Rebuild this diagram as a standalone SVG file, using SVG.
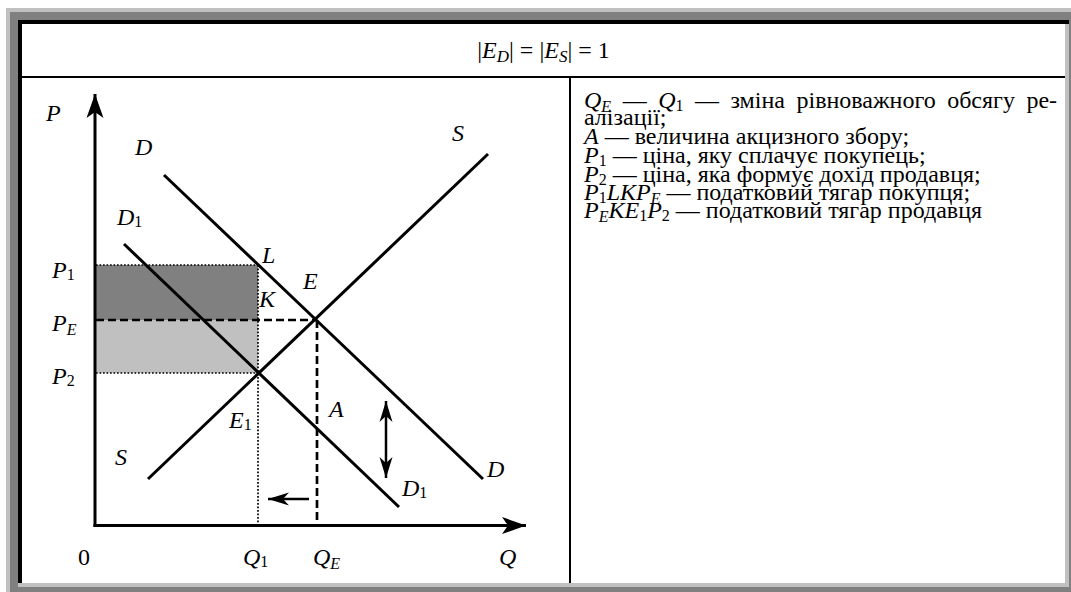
<svg xmlns="http://www.w3.org/2000/svg" width="1071" height="592" viewBox="0 0 1071 592">
<style>
text{font-family:"Liberation Serif","DejaVu Serif","Times New Roman",serif;fill:#000}
.lb{font-size:24px;font-style:italic}
.n{font-style:normal}
.sb{font-size:16px}
.hd{font-size:24px}
.hs{font-size:17px}
.tx{font-size:24px}
.ts{font-size:16px}
.ln{stroke:#000;stroke-width:3;fill:none}
.ds{stroke:#000;stroke-width:2.7;stroke-dasharray:8 4;fill:none}
.dt{stroke:#000;stroke-width:1.7;stroke-dasharray:1.7 1.8;fill:none}
</style>
<defs>
<marker id="ah" markerUnits="userSpaceOnUse" viewBox="-24 -9 26 18" refX="0" refY="0" markerWidth="26" markerHeight="18" orient="auto">
<path d="M0,0 L-24,-8.5 L-18,0 L-24,8.5 Z" fill="#000"/>
</marker>
<marker id="as" markerUnits="userSpaceOnUse" viewBox="-22 -8 24 16" refX="0" refY="0" markerWidth="24" markerHeight="16" orient="auto-start-reverse">
<path d="M0,0 L-21,-6.5 L-15,0 L-21,6.5 Z" fill="#000"/>
</marker>
</defs>
<g id="frame">
<rect x="6" y="8" width="1065" height="584" fill="#c0c0c0"/>
<rect x="10" y="12" width="1061" height="580" fill="#808080"/>
<rect x="18" y="20" width="1051" height="567" fill="#c0c0c0"/>
<rect x="18" y="20" width="1051" height="4" fill="#000"/>
<rect x="18" y="20" width="4" height="563" fill="#000"/>
<rect x="22" y="24" width="1043" height="559" fill="#fff"/>
<rect x="22" y="76" width="1043" height="2" fill="#000"/>
<rect x="569" y="78" width="2" height="505" fill="#000"/>
</g>
<g id="header">
<text class="hd" x="543.5" y="58" text-anchor="middle">|<tspan font-style="italic">E</tspan><tspan class="hs" font-style="italic" dy="4">D</tspan><tspan dy="-4">| = |</tspan><tspan font-style="italic">E</tspan><tspan class="hs" font-style="italic" dy="4">S</tspan><tspan dy="-4">| = 1</tspan></text>
</g>
<g id="areas">
<rect x="96" y="265" width="162" height="55" fill="#808080"/>
<rect x="96" y="320" width="162" height="53" fill="#c0c0c0"/>
</g>
<g id="connectors">
<line class="dt" x1="96" y1="265" x2="258" y2="265"/>
<line class="dt" x1="96" y1="373" x2="258" y2="373"/>
<line class="dt" x1="258" y1="265" x2="258" y2="524"/>
<line class="ds" x1="96" y1="320" x2="317" y2="320"/>
<line class="ds" x1="317" y1="320" x2="317" y2="524"/>
<line class="ln" x1="164" y1="175" x2="483" y2="479"/>
<line class="ln" x1="124" y1="244" x2="399" y2="507"/>
<line class="ln" x1="148" y1="479" x2="488" y2="154"/>
<line class="ln" x1="95" y1="527" x2="95" y2="94" marker-end="url(#ah)"/>
<line class="ln" x1="93.5" y1="525.5" x2="526" y2="525.5" marker-end="url(#ah)"/>
<line stroke="#000" stroke-width="2.5" x1="309" y1="499" x2="268" y2="499" marker-end="url(#as)"/>
<line stroke="#000" stroke-width="2.5" x1="386" y1="401" x2="386" y2="478" marker-start="url(#as)" marker-end="url(#as)"/>
</g>
<g id="labels">
<text class="lb" x="46" y="121">P</text>
<text class="lb" x="135" y="155">D</text>
<text class="lb" x="117" y="225">D<tspan class="sb n" dy="2">1</tspan></text>
<text class="lb" x="452" y="141">S</text>
<text class="lb" x="262" y="263">L</text>
<text class="lb" x="259" y="307">K</text>
<text class="lb" x="303" y="289">E</text>
<text class="lb" x="52" y="278">P<tspan class="sb n" dy="2">1</tspan></text>
<text class="lb" x="52" y="331">P<tspan class="sb" dy="4">E</tspan></text>
<text class="lb" x="52" y="384">P<tspan class="sb n" dy="2">2</tspan></text>
<text class="lb" x="229" y="428">E<tspan class="sb n" dy="2">1</tspan></text>
<text class="lb" x="329" y="417">A</text>
<text class="lb" x="115" y="465">S</text>
<text class="lb" x="487" y="477">D</text>
<text class="lb" x="402" y="496">D<tspan class="sb n" dy="2">1</tspan></text>
<text class="lb n" x="78" y="565">0</text>
<text class="lb" x="243" y="565">Q<tspan class="sb n" dy="2">1</tspan></text>
<text class="lb" x="313" y="565">Q<tspan class="sb" dy="4">E</tspan></text>
<text class="lb" x="499" y="565">Q</text>
</g>
<g id="legend">
<text class="tx" x="584" y="108" word-spacing="5.5"><tspan font-style="italic">Q</tspan><tspan class="ts" font-style="italic" dy="4">E</tspan><tspan dy="-4"> — </tspan><tspan font-style="italic">Q</tspan><tspan class="ts" dy="3">1</tspan><tspan dy="-3"> — зміна рівноважного обсягу ре-</tspan></text>
<text class="tx" x="584" y="125">алізації;</text>
<text class="tx" x="584" y="144"><tspan font-style="italic">A</tspan> — величина акцизного збору;</text>
<text class="tx" x="584" y="163"><tspan font-style="italic">P</tspan><tspan class="ts" dy="3">1</tspan><tspan dy="-3"> — ціна, яку сплачує покупець;</tspan></text>
<text class="tx" x="584" y="182"><tspan font-style="italic">P</tspan><tspan class="ts" dy="3">2</tspan><tspan dy="-3"> — ціна, яка формує дохід продавця;</tspan></text>
<text class="tx" x="584" y="200"><tspan font-style="italic">P</tspan><tspan class="ts" dy="3">1</tspan><tspan dy="-3" font-style="italic">LKP</tspan><tspan class="ts" font-style="italic" dy="4">E</tspan><tspan dy="-4"> — податковий тягар покупця;</tspan></text>
<text class="tx" x="584" y="218"><tspan font-style="italic">P</tspan><tspan class="ts" font-style="italic" dy="4">E</tspan><tspan dy="-4" font-style="italic">KE</tspan><tspan class="ts" dy="3">1</tspan><tspan dy="-3" font-style="italic">P</tspan><tspan class="ts" dy="3">2</tspan><tspan dy="-3"> — податковий тягар продавця</tspan></text>
</g>
</svg>
